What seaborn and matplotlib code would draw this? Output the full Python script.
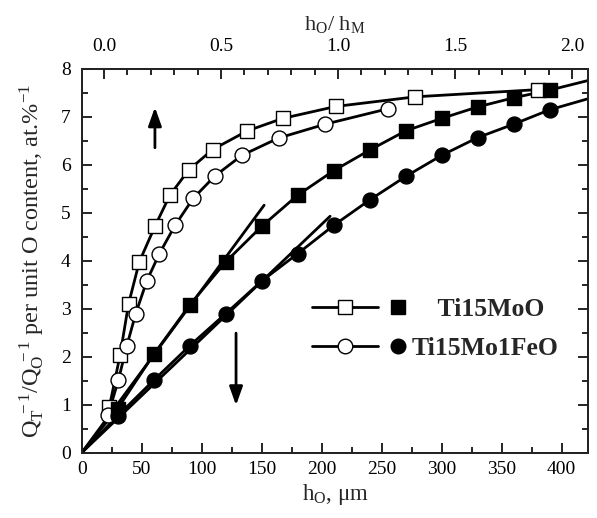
import numpy as np
import pandas as pd
import seaborn as sns
import matplotlib
matplotlib.use("Agg")
import matplotlib.pyplot as plt
from matplotlib.lines import Line2D
from matplotlib.legend_handler import HandlerBase
from matplotlib.ticker import MultipleLocator, FormatStrFormatter

# --- data (h_O in um, Q_T^-1/Q_O^-1 per at.%) ---
# Ti15MoO
mo_full_x = [30, 60, 90, 120, 150, 180, 210, 240, 270, 300, 330, 360, 390]
mo_full_y = [0.92, 2.05, 3.08, 3.98, 4.72, 5.37, 5.88, 6.31, 6.71, 6.97, 7.21, 7.40, 7.56]
mo_open_x = [23, 32, 39, 48, 61, 73.5, 89, 109, 138, 167.5, 212, 278, 380]
mo_open_y = [0.95, 2.04, 3.10, 3.98, 4.72, 5.37, 5.89, 6.32, 6.71, 6.97, 7.22, 7.42, 7.57]
# Ti15Mo1FeO
fe_full_x = [30, 60, 90, 120, 150, 180, 210, 240, 270, 300, 330, 360, 390]
fe_full_y = [0.77, 1.51, 2.23, 2.90, 3.58, 4.15, 4.74, 5.27, 5.76, 6.20, 6.57, 6.85, 7.15]
fe_open_x = [22, 30.5, 37.6, 45, 54.2, 64.7, 77.8, 92.8, 111, 133.5, 164, 203, 255]
fe_open_y = [0.79, 1.51, 2.23, 2.90, 3.58, 4.15, 4.74, 5.30, 5.77, 6.20, 6.56, 6.85, 7.17]

# fitted curves for the filled symbols (start at origin, run to the frame)
mo_fit_x = [0] + mo_full_x + [422]
mo_fit_y = [0] + mo_full_y + [7.76]
fe_fit_x = [0] + fe_full_x + [422]
fe_fit_y = [0] + fe_full_y + [7.38]

# initial slopes
mo_tan_x, mo_tan_y = [0, 152], [0, 5.16]
fe_tan_x, fe_tan_y = [0, 207], [0, 4.93]

# arrows (x, y_from, y_to)
arrow_up = (61, 6.30, 7.26)
arrow_down = (128.6, 2.55, 0.93)

sns.set_theme(style="ticks")
plt.rcParams['font.family'] = ['Liberation Serif', 'DejaVu Serif']
plt.rcParams['mathtext.fontset'] = 'custom'
plt.rcParams['mathtext.rm'] = 'Liberation Serif'
plt.rcParams['mathtext.it'] = 'Liberation Serif:italic'
plt.rcParams['mathtext.bf'] = 'Liberation Serif:bold'


class PairHandler(HandlerBase):
    # "--o--  *" style legend entry: open symbol on a line, then filled symbol
    def create_artists(self, legend, orig_handle, xdescent, ydescent,
                       width, height, fontsize, trans):
        open_h, full_h = orig_handle
        y = height / 2 - ydescent
        x0 = -xdescent
        seg = Line2D([x0, x0 + 0.72 * width], [y, y], color='black', lw=2)
        m1 = Line2D([x0 + 0.36 * width], [y], ls='none', marker=open_h.get_marker(),
                    ms=open_h.get_markersize(), mfc='white', mec='black', mew=1)
        m2 = Line2D([x0 + 0.93 * width], [y], ls='none', marker=full_h.get_marker(),
                    ms=full_h.get_markersize(), mfc='black', mec='black')
        for a in (seg, m1, m2):
            a.set_transform(trans)
        return [seg, m1, m2]


fig = plt.figure(figsize=(5.97, 5.18), dpi=100)
ax = fig.add_axes([0.1369, 0.1261, 0.8482, 0.7407])

lw = 2
# curves
for xs, ys in [(mo_fit_x, mo_fit_y), (fe_fit_x, fe_fit_y),
               (mo_open_x, mo_open_y), (fe_open_x, fe_open_y),
               (mo_tan_x, mo_tan_y), (fe_tan_x, fe_tan_y)]:
    sns.lineplot(x=xs, y=ys, color='black', lw=lw, sort=False, estimator=None, ax=ax)

# symbols
sns.scatterplot(x=mo_open_x, y=mo_open_y, marker='s', s=95, color='white',
                edgecolor='black', linewidth=1, zorder=3, ax=ax)
sns.scatterplot(x=fe_open_x, y=fe_open_y, marker='o', s=115, color='white',
                edgecolor='black', linewidth=1, zorder=3, ax=ax)
sns.scatterplot(x=mo_full_x, y=mo_full_y, marker='s', s=95, color='black',
                edgecolor='black', linewidth=1, zorder=3, ax=ax)
sns.scatterplot(x=fe_full_x, y=fe_full_y, marker='o', s=115, color='black',
                edgecolor='black', linewidth=1, zorder=3, ax=ax)

# arrows
for xa, y0, y1 in [arrow_up, arrow_down]:
    ax.annotate('', xy=(xa, y1), xytext=(xa, y0),
                arrowprops=dict(arrowstyle='-|>,head_length=0.7,head_width=0.25',
                                color='black', lw=2, mutation_scale=16))

ax.set_xlim(0, 422)
ax.set_ylim(0, 8)
ax.xaxis.set_major_locator(MultipleLocator(50))
ax.xaxis.set_minor_locator(MultipleLocator(25))
ax.yaxis.set_major_locator(MultipleLocator(1))
ax.yaxis.set_minor_locator(MultipleLocator(0.5))
ax.tick_params(which='both', direction='in', right=True, width=1.2, labelsize=14, colors='black')
ax.tick_params(which='major', length=7, pad=6)
ax.tick_params(which='minor', length=4)
ax.tick_params(axis='y', which='major', pad=8)
for sp in ax.spines.values():
    sp.set_linewidth(1.3)
    sp.set_color('black')

ax.set_xlabel(r'h$_\mathrm{O}$, μm', fontsize=16.5, labelpad=3)
ax.set_ylabel(r'Q$_\mathrm{T}^{\ -1}$/Q$_\mathrm{O}^{\ -1}$ per unit O content, at.%$^{-1}$',
              fontsize=17.5, labelpad=10)

# top axis: normalised thickness
ax2 = ax.twiny()
ax2.set_xlim(-0.095, 2.068)
ax2.xaxis.set_major_locator(MultipleLocator(0.5))
ax2.xaxis.set_minor_locator(MultipleLocator(0.1))
ax2.xaxis.set_major_formatter(FormatStrFormatter('%.1f'))
ax2.tick_params(which='both', direction='in', width=1.2, labelsize=14, colors='black')
ax2.tick_params(which='major', length=7, pad=10)
ax2.tick_params(which='minor', length=4)
ax2.set_xlabel(r'h$_\mathrm{O}$/ h$_\mathrm{M}$', fontsize=16, labelpad=6)

# legend
h_mo = (Line2D([], [], marker='s', ms=9.5), Line2D([], [], marker='s', ms=9.5))
h_fe = (Line2D([], [], marker='o', ms=10.5), Line2D([], [], marker='o', ms=10.5))
ax.legend([h_mo, h_fe], ['    Ti15MoO', 'Ti15Mo1FeO'],
          handler_map={tuple: PairHandler()}, frameon=False,
          prop={'weight': 'bold', 'size': 18.5}, handlelength=3.6, handletextpad=0.3,
          labelspacing=0.62, borderpad=0, borderaxespad=0,
          loc='center left', bbox_to_anchor=(0.454, 0.322))

fig.savefig('out.png', dpi=100)
